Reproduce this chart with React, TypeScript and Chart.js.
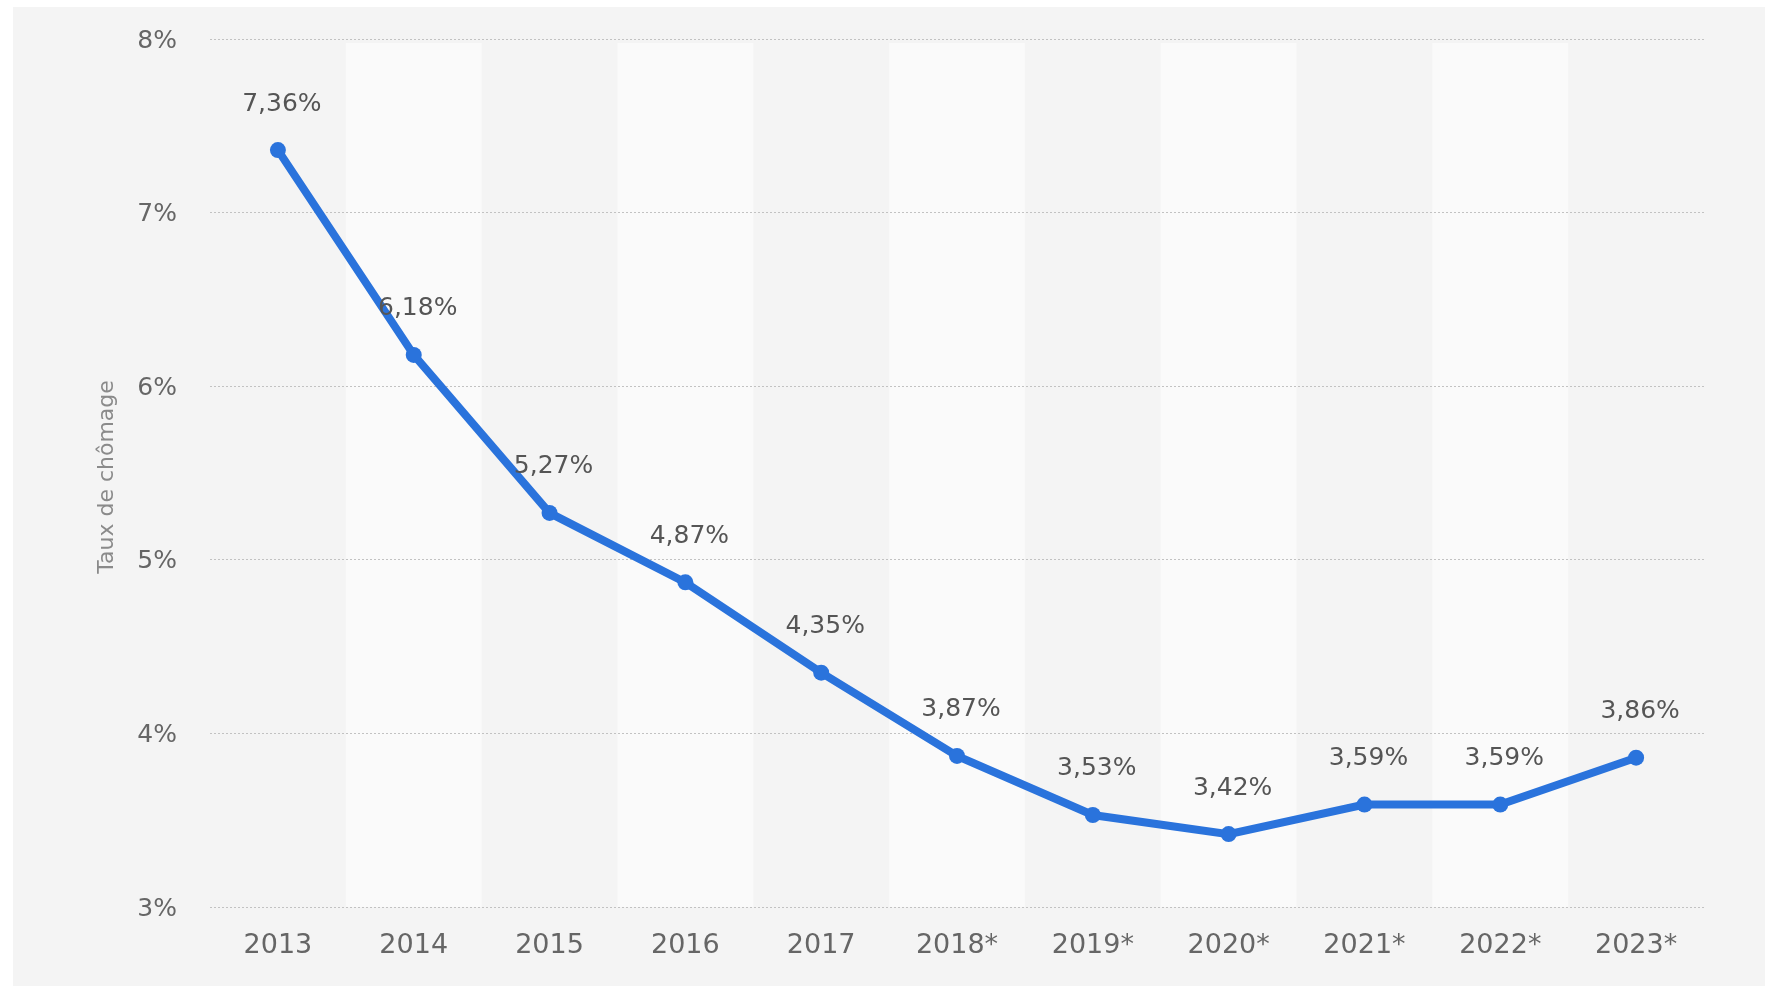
import React, { useEffect, useRef } from "react";
import { Chart, registerables } from "chart.js";

Chart.register(...registerables);

const categories = ["2013", "2014", "2015", "2016", "2017", "2018*", "2019*", "2020*", "2021*", "2022*", "2023*"];
const unemploymentRate = [7.36, 6.18, 5.27, 4.87, 4.35, 3.87, 3.53, 3.42, 3.59, 3.59, 3.86];
const yTickValues = [3, 4, 5, 6, 7, 8];
const yAxisTitle = "Taux de chômage";

const FONT = "'DejaVu Sans', 'Liberation Sans', sans-serif";
const LINE_COLOR = "#2a73dc";

const fmt = (v: number) => v.toFixed(2).replace(".", ",") + "%";

const bandsPlugin = {
  id: "bands",
  beforeDraw(chart: any) {
    const { ctx, chartArea, scales } = chart;
    const x = scales.x;
    ctx.save();
    for (let i = 0; i < categories.length; i++) {
      if (i % 2 === 1) {
        const c = x.getPixelForValue(i);
        const half = (chartArea.right - chartArea.left) / categories.length / 2;
        ctx.fillStyle = "#fafafa";
        ctx.fillRect(c - half, chartArea.top + 4, half * 2, chartArea.bottom - chartArea.top - 4);
      }
    }
    ctx.restore();
  },
};

const labelsPlugin = {
  id: "valueLabels",
  afterDatasetsDraw(chart: any) {
    const { ctx } = chart;
    const meta = chart.getDatasetMeta(0);
    ctx.save();
    ctx.font = `25px ${FONT}`;
    ctx.fillStyle = "#555555";
    ctx.textAlign = "center";
    ctx.textBaseline = "middle";
    meta.data.forEach((pt: any, i: number) => {
      ctx.fillText(fmt(unemploymentRate[i]), pt.x + 4, pt.y - 46);
    });
    ctx.restore();
  },
  afterDraw(chart: any) {
    const { ctx, chartArea } = chart;
    ctx.save();
    ctx.font = `22px ${FONT}`;
    ctx.fillStyle = "#8a8a8a";
    ctx.textAlign = "center";
    ctx.textBaseline = "middle";
    ctx.translate(107, (chartArea.top + chartArea.bottom) / 2 + 4);
    ctx.rotate(-Math.PI / 2);
    ctx.fillText(yAxisTitle, 0, 0);
    ctx.restore();
  },
};

export default function App() {
  const ref = useRef<HTMLCanvasElement | null>(null);
  useEffect(() => {
    if (!ref.current) return;
    const chart = new Chart(ref.current, {
      type: "line",
      data: {
        labels: categories,
        datasets: [
          {
            data: unemploymentRate,
            borderColor: LINE_COLOR,
            backgroundColor: LINE_COLOR,
            borderWidth: 8,
            pointRadius: 8,
            pointBorderWidth: 0,
            pointBackgroundColor: LINE_COLOR,
            tension: 0,
            fill: false,
          },
        ],
      },
      options: {
        responsive: false,
        animation: false,
        layout: { autoPadding: false, padding: { left: 0, top: 39, right: 61, bottom: 0 } },
        plugins: { legend: { display: false }, title: { display: false }, tooltip: { enabled: false } },
        scales: {
          x: {
            type: "category",
            offset: true,
            grid: { display: false, drawTicks: false },
            border: { display: false },
            ticks: { color: "#666666", font: { family: FONT, size: 27 }, padding: 23, maxRotation: 0 },
            afterFit: (s: any) => {
              s.height = 987 - 907;
              s.paddingLeft = 0;
              s.paddingRight = 0;
            },
          },
          y: {
            min: 3,
            max: 8,
            afterBuildTicks: (s: any) => {
              s.ticks = yTickValues.map((v) => ({ value: v }));
            },
            grid: { color: "#c2c2c2", lineWidth: 1, drawTicks: false },
            border: { display: false, dash: [2, 2] },
            ticks: {
              color: "#666666",
              font: { family: FONT, size: 25 },
              padding: 33,
              labelOffset: 2,
              callback: (v: any) => `${v}%`,
            },
            afterFit: (s: any) => {
              s.width = 210;
              s.paddingTop = 0;
              s.paddingBottom = 0;
            },
          },
        },
      },
      plugins: [bandsPlugin, labelsPlugin],
    });
    return () => chart.destroy();
  }, []);

  return (
    <div style={{ position: "fixed", left: 0, top: 0, width: 1765, height: 987, background: "#ffffff" }}>
      <div style={{ position: "absolute", left: 13, top: 7, right: 0, bottom: 1, background: "#f4f4f4" }} />
      <canvas ref={ref} width={1765} height={987} style={{ position: "absolute", left: 0, top: 0, width: 1765, height: 987 }} />
    </div>
  );
}
